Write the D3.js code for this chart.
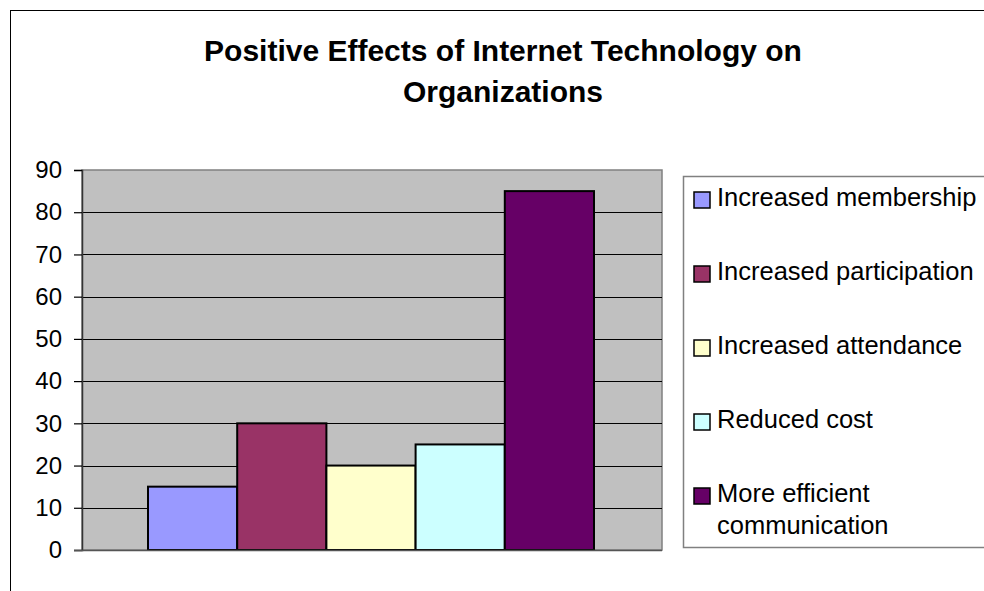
<!DOCTYPE html>
<html>
<head>
<meta charset="utf-8">
<script src="https://cdn.jsdelivr.net/npm/d3@7"></script>
<style>
body { margin: 0; background: #fff; }
svg { display: block; font-family: Arial, "Liberation Sans", sans-serif; }
</style>
</head>
<body>
<div id="chart"></div>
<script>
var categories = ["Increased membership", "Increased participation", "Increased attendance", "Reduced cost", "More efficient communication"];
var values = [15, 30, 20, 25, 85];
var colors = ["#9999FF", "#993366", "#FFFFCC", "#CCFFFF", "#660066"];
var legendLines = [["Increased membership"], ["Increased participation"], ["Increased attendance"], ["Reduced cost"], ["More efficient", "communication"]];
var yTicks = [0, 10, 20, 30, 40, 50, 60, 70, 80, 90];
var titleLines = ["Positive Effects of Internet Technology on", "Organizations"];

var width = 984, height = 591;
var plot = {left: 82, top: 170, right: 662, bottom: 550};

var svg = d3.select("#chart").append("svg")
            .attr("width", width)
            .attr("height", height);

// outer chart border (runs off the right and bottom)
svg.append("rect")
   .attr("x", 10.5).attr("y", 10.5)
   .attr("width", 1000).attr("height", 1000)
   .style("fill", "#fff")
   .style("stroke", "#000")
   .style("stroke-width", 1);

// title
svg.append("g").selectAll("text")
   .data(titleLines)
   .enter()
   .append("text")
   .attr("x", 503)
   .attr("y", function(d, i){ return 61 + i * 41; })
   .style("text-anchor", "middle")
   .style("font-weight", "bold")
   .style("font-size", "30px")
   .text(function(d){ return d; });

var y = d3.scaleLinear().domain([0, 90]).range([plot.bottom, plot.top]);
var x = d3.scaleBand().domain(categories)
          .range([plot.left + 66, plot.right - 68])
          .paddingInner(0);

// plot background
svg.append("rect")
   .attr("x", plot.left).attr("y", plot.top)
   .attr("width", plot.right - plot.left)
   .attr("height", plot.bottom - plot.top)
   .style("fill", "#C0C0C0")
   .style("stroke", "#808080")
   .style("stroke-width", 1.5);

// gridlines
svg.append("g").selectAll("line")
   .data(yTicks.filter(function(d){ return d > 0 && d < 90; }))
   .enter()
   .append("line")
   .attr("x1", plot.left).attr("x2", plot.right)
   .attr("y1", function(d){ return Math.round(y(d)) + 0.5; })
   .attr("y2", function(d){ return Math.round(y(d)) + 0.5; })
   .style("stroke", "#000")
   .style("stroke-width", 1.2);

// bars
svg.append("g").selectAll("rect")
   .data(values)
   .enter()
   .append("rect")
   .attr("x", function(d, i){ return x(categories[i]); })
   .attr("y", function(d){ return y(d); })
   .attr("width", x.bandwidth())
   .attr("height", function(d){ return plot.bottom - y(d); })
   .style("fill", function(d, i){ return colors[i]; })
   .style("stroke", "#000")
   .style("stroke-width", 2);

// y axis
var yAxis = svg.append("g")
   .attr("transform", "translate(" + plot.left + ",0)")
   .call(d3.axisLeft(y).tickValues(yTicks).tickSize(8).tickPadding(12));
yAxis.select(".domain").style("stroke", "#333").style("stroke-width", 1.5);
yAxis.selectAll(".tick line").style("stroke", "#000").style("stroke-width", 1.2);
yAxis.selectAll(".tick text")
     .style("font-size", "24px")
     .style("font-family", "Arial, 'Liberation Sans', sans-serif")
     .style("fill", "#000");

// bottom line
svg.append("line")
   .attr("x1", plot.left - 8).attr("x2", plot.right)
   .attr("y1", plot.bottom + 0.5).attr("y2", plot.bottom + 0.5)
   .style("stroke", "#555")
   .style("stroke-width", 1.5);

// legend
svg.append("rect")
   .attr("x", 683.5).attr("y", 176.5)
   .attr("width", 400).attr("height", 371)
   .style("fill", "#fff")
   .style("stroke", "#808080")
   .style("stroke-width", 1.5);

var legend = svg.append("g").selectAll("g")
   .data(legendLines)
   .enter()
   .append("g")
   .attr("transform", function(d, i){ return "translate(0," + (206 + i * 74) + ")"; });

legend.append("rect")
   .attr("x", 694).attr("y", -14)
   .attr("width", 16).attr("height", 16)
   .style("fill", function(d, i){ return colors[i]; })
   .style("stroke", "#000")
   .style("stroke-width", 1.5);

legend.selectAll("text")
   .data(function(d){ return d; })
   .enter()
   .append("text")
   .attr("x", 717)
   .attr("y", function(d, i){ return i * 32; })
   .style("font-size", "25.5px")
   .text(function(d){ return d; });
</script>
</body>
</html>
